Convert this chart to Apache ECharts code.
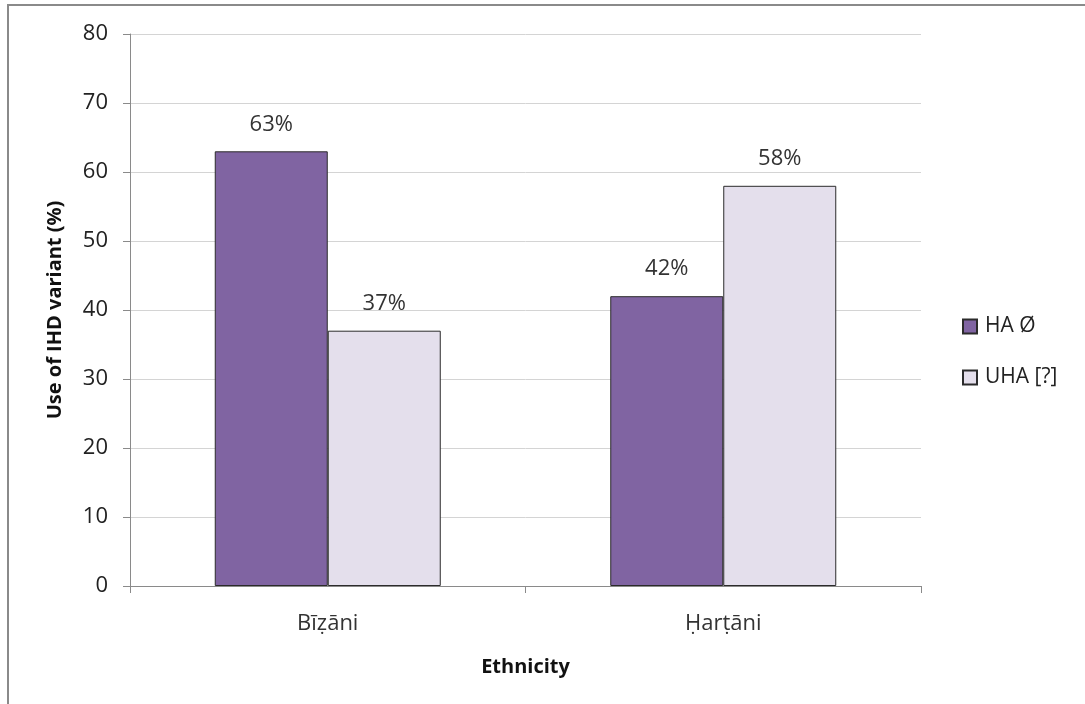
<!DOCTYPE html>
<html><head><meta charset="utf-8">
<script src="https://cdn.jsdelivr.net/npm/echarts@6/dist/echarts.min.js"></script>
<style>html,body{margin:0;padding:0;background:#fff}#c{width:1085px;height:704px}</style>
</head><body><div id="c"></div>
<script>
const categories = ['Bīẓāni', 'Ḥarṭāni'];
const seriesNames = ['HA Ø', 'UHA [?]'];
const haValues = [63, 42];
const uhaValues = [37, 58];
const yTicks = [0, 10, 20, 30, 40, 50, 60, 70, 80];

const font = "'Open Sans', 'Liberation Sans', sans-serif";
const chart = echarts.init(document.getElementById('c'), null, {renderer: 'canvas'});
chart.setOption({
  animation: false,
  backgroundColor: '#fff',
  graphic: [{
    type: 'rect', shape: {x: 8, y: 5, width: 1120, height: 740},
    style: {fill: 'none', stroke: '#8a8a8a', lineWidth: 2}, silent: true
  }],
  grid: {left: 130, right: 1085 - 921, top: 34, bottom: 704 - 586, containLabel: false},
  legend: {
    orient: 'vertical', left: 957, top: 311, itemWidth: 14, itemHeight: 14, itemGap: 30,
    icon: 'rect',
    textStyle: {fontFamily: font, fontSize: 21, color: '#222', padding: [0, 0, 0, 3]},
    data: seriesNames
  },
  xAxis: {
    type: 'category', data: categories,
    name: 'Ethnicity', nameLocation: 'middle', nameGap: 71,
    nameTextStyle: {fontFamily: font, fontSize: 20, fontWeight: 'bold', color: '#111'},
    axisLine: {lineStyle: {color: '#8a8a8a'}},
    axisTick: {show: true, length: 7, lineStyle: {color: '#8a8a8a'}},
    axisLabel: {fontFamily: font, fontSize: 22, color: '#333', margin: 27}
  },
  yAxis: {
    type: 'value', min: yTicks[0], max: yTicks[yTicks.length - 1], interval: 10,
    name: 'Use of IHD variant (%)', nameLocation: 'middle', nameGap: 65,
    nameTextStyle: {fontFamily: font, fontSize: 20, fontWeight: 'bold', color: '#111'},
    axisLine: {show: true, lineStyle: {color: '#8a8a8a'}},
    axisTick: {show: true, length: 7, lineStyle: {color: '#8a8a8a'}},
    axisLabel: {fontFamily: font, fontSize: 22, color: '#222', margin: 22},
    splitLine: {lineStyle: {color: '#d4d4d4'}}
  },
  series: [
    {
      name: seriesNames[0], type: 'bar', data: haValues, barWidth: 113, barGap: '0%',
      itemStyle: {color: '#8064A2', borderColor: '#2b2b2b', borderWidth: 1},
      label: {show: true, position: 'top', distance: 16, formatter: '{c}%', fontFamily: font, fontSize: 22, color: '#333'}
    },
    {
      name: seriesNames[1], type: 'bar', data: uhaValues, barWidth: 113, barGap: '0%',
      itemStyle: {color: '#E4DFEC', borderColor: '#2b2b2b', borderWidth: 1},
      label: {show: true, position: 'top', distance: 16, formatter: '{c}%', fontFamily: font, fontSize: 22, color: '#333'}
    }
  ]
});
</script></body></html>
